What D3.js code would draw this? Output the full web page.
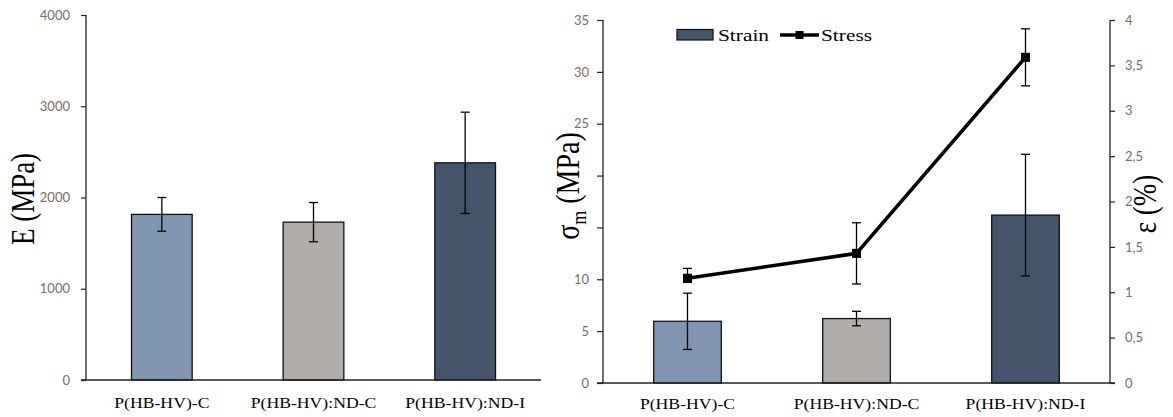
<!DOCTYPE html>
<html><head><meta charset="utf-8">
<script src="https://cdn.jsdelivr.net/npm/d3@7"></script>
<style>body{margin:0;background:#fff}</style>
</head><body>
<script>
// ---- data ----
const categories = ["P(HB-HV)-C", "P(HB-HV):ND-C", "P(HB-HV):ND-I"];
const modulus = [1815, 1730, 2380];
const modulusErr = [185, 215, 555];
const strain = [0.68, 0.71, 1.85];
const strainErr = [0.31, 0.08, 0.67];
const stress = [10.1, 12.5, 31.4];
const stressErrUp = [0.95, 2.95, 2.75];
const stressErrDown = [0.4, 2.95, 2.75];
const modulusTicks = [0, 1000, 2000, 3000, 4000];
const stressTicks = [0, 5, 10, 15, 20, 25, 30, 35];
const strainTicks = [0, 0.5, 1, 1.5, 2, 2.5, 3, 3.5, 4];
const legendLabels = ["Strain", "Stress"];

// ---- styles ----
const barColors = ["#8196b0", "#b0adab", "#44546a"];
const tickColor = "#7a6e62";
const tickFont = "Lato, 'Open Sans', sans-serif";
const serif = "'Liberation Serif', 'DejaVu Serif', serif";
const stretch = 1.22;

const W = 1173, H = 417;
const svg = d3.select("body").append("svg").attr("width", W).attr("height", H);

function catLabels(g, x, y) {
  g.selectAll("text.cat").data(categories).join("text")
    .attr("class", "cat")
    .attr("transform", d => `translate(${x(d) + x.bandwidth() / 2},${y}) scale(${stretch},1)`)
    .attr("text-anchor", "middle")
    .attr("font-family", serif).attr("font-size", 14.5).attr("fill", "#000")
    .text(d => d);
}

function errBars(g, xs, ys, up, down, cap) {
  const eg = g.append("g").attr("stroke", "#000").attr("stroke-width", 1.3);
  xs.forEach((cx, i) => {
    const t = ys[i] + up[i], b = ys[i] - down[i];
    eg.append("line").attr("x1", cx).attr("x2", cx).attr("y1", cap.y(t)).attr("y2", cap.y(b));
    eg.append("line").attr("x1", cx - 4.5).attr("x2", cx + 4.5).attr("y1", cap.y(t)).attr("y2", cap.y(t));
    eg.append("line").attr("x1", cx - 4.5).attr("x2", cx + 4.5).attr("y1", cap.y(b)).attr("y2", cap.y(b));
  });
}

// ================= LEFT PANEL =================
{
  const x = d3.scaleBand().domain(categories).range([86, 541]).paddingInner(0.6).paddingOuter(0.3);
  const y = d3.scaleLinear().domain([0, 4000]).range([380, 15]);
  const g = svg.append("g");

  g.selectAll("rect.bar").data(categories).join("rect")
    .attr("x", d => x(d)).attr("width", x.bandwidth())
    .attr("y", (d, i) => y(modulus[i])).attr("height", (d, i) => y(0) - y(modulus[i]))
    .attr("fill", (d, i) => barColors[i]).attr("stroke", "#111").attr("stroke-width", 1.3);

  errBars(g, categories.map(c => x(c) + x.bandwidth() / 2), modulus, modulusErr, modulusErr, {y});

  const ay = g.append("g").attr("transform", "translate(86,0)")
    .call(d3.axisLeft(y).tickValues(modulusTicks).tickSize(5).tickPadding(11).tickFormat(d3.format("d")));
  ay.select(".domain").attr("stroke", "#222").attr("stroke-width", 1.3).attr("d", "M0,15V380");
  ay.selectAll(".tick line").attr("stroke", "#222").attr("stroke-width", 1.2);
  ay.selectAll(".tick text").attr("fill", tickColor).attr("font-family", tickFont).attr("font-size", 13);

  g.append("line").attr("x1", 81).attr("x2", 541).attr("y1", 380).attr("y2", 380)
    .attr("stroke", "#222").attr("stroke-width", 1.3);

  catLabels(g, x, 408);

  g.append("text").attr("transform", `translate(34,199) scale(${stretch},1) rotate(-90)`)
    .attr("text-anchor", "middle").attr("font-family", serif).attr("font-size", 27).attr("fill", "#000")
    .text("E (MPa)");
}

// ================= RIGHT PANEL =================
{
  const x = d3.scaleBand().domain(categories).range([603, 1110]).paddingInner(0.6).paddingOuter(0.3);
  const yL = d3.scaleLinear().domain([0, 35]).range([383, 20]);
  const yR = d3.scaleLinear().domain([0, 4]).range([383, 20]);
  const g = svg.append("g");
  const cx = categories.map(c => x(c) + x.bandwidth() / 2);

  g.selectAll("rect.bar").data(categories).join("rect")
    .attr("x", d => x(d)).attr("width", x.bandwidth())
    .attr("y", (d, i) => yR(strain[i])).attr("height", (d, i) => yR(0) - yR(strain[i]))
    .attr("fill", (d, i) => barColors[i]).attr("stroke", "#111").attr("stroke-width", 1.3);

  errBars(g, cx, strain, strainErr, strainErr, {y: yR});

  // stress line
  errBars(g, cx, stress, stressErrUp, stressErrDown, {y: yL});
  const line = d3.line().x((d, i) => cx[i]).y(d => yL(d));
  g.append("path").datum(stress).attr("d", line).attr("fill", "none")
    .attr("stroke", "#000").attr("stroke-width", 3.6).attr("stroke-linejoin", "round");
  g.selectAll("rect.mk").data(stress).join("rect")
    .attr("x", (d, i) => cx[i] - 4.5).attr("y", d => yL(d) - 4.5).attr("width", 9).attr("height", 9).attr("fill", "#000");

  // left axis
  const al = g.append("g").attr("transform", "translate(603,0)")
    .call(d3.axisLeft(yL).tickValues(stressTicks).tickSize(6).tickPadding(8).tickFormat(d3.format("d")));
  al.select(".domain").attr("stroke", "#222").attr("stroke-width", 1.3).attr("d", "M0,20V383");
  al.selectAll(".tick line").attr("stroke", "#222").attr("stroke-width", 1.2);
  al.selectAll(".tick text").attr("fill", tickColor).attr("font-family", tickFont).attr("font-size", 13);

  // right axis
  const ar = g.append("g").attr("transform", "translate(1110,0)")
    .call(d3.axisRight(yR).tickValues(strainTicks).tickSize(5).tickPadding(10)
      .tickFormat(d => d3.format("")(d).replace(".", ",")));
  ar.select(".domain").attr("stroke", "#222").attr("stroke-width", 1.3).attr("d", "M0,20V383");
  ar.selectAll(".tick line").attr("stroke", "#222").attr("stroke-width", 1.2);
  ar.selectAll(".tick text").attr("fill", tickColor).attr("font-family", tickFont).attr("font-size", 13);

  g.append("line").attr("x1", 597).attr("x2", 1115).attr("y1", 383).attr("y2", 383)
    .attr("stroke", "#222").attr("stroke-width", 1.3);

  catLabels(g, x, 409);

  // left title with white box covering some tick labels
  g.append("rect").attr("x", 550).attr("y", 136).attr("width", 41).attr("height", 124).attr("fill", "#fff");
  const t = g.append("text").attr("transform", `translate(579,186) scale(${stretch},1) rotate(-90)`)
    .attr("text-anchor", "middle").attr("font-family", serif).attr("font-size", 28).attr("fill", "#000");
  t.append("tspan").text("σ");
  t.append("tspan").attr("font-size", 18).attr("dy", 6).text("m");
  t.append("tspan").attr("dy", -6).text(" (MPa)");

  // right title
  g.append("text").attr("transform", `translate(1156,204) scale(${stretch},1) rotate(-90)`)
    .attr("text-anchor", "middle").attr("font-family", serif).attr("font-size", 27).attr("fill", "#000")
    .text("ε (%)");

  // legend
  const lg = g.append("g");
  lg.append("rect").attr("x", 677).attr("y", 29.5).attr("width", 36).attr("height", 10.5)
    .attr("fill", barColors[2]).attr("stroke", "#111").attr("stroke-width", 1.2);
  lg.append("text").attr("transform", `translate(718,41) scale(${stretch},1)`)
    .attr("font-family", serif).attr("font-size", 17.5).text(legendLabels[0]);
  lg.append("line").attr("x1", 780).attr("x2", 819).attr("y1", 35).attr("y2", 35)
    .attr("stroke", "#000").attr("stroke-width", 3.4);
  lg.append("rect").attr("x", 795.5).attr("y", 31).attr("width", 8).attr("height", 8).attr("fill", "#000");
  lg.append("text").attr("transform", `translate(821,41) scale(${stretch},1)`)
    .attr("font-family", serif).attr("font-size", 17.5).text(legendLabels[1]);
}
</script>
</body></html>
